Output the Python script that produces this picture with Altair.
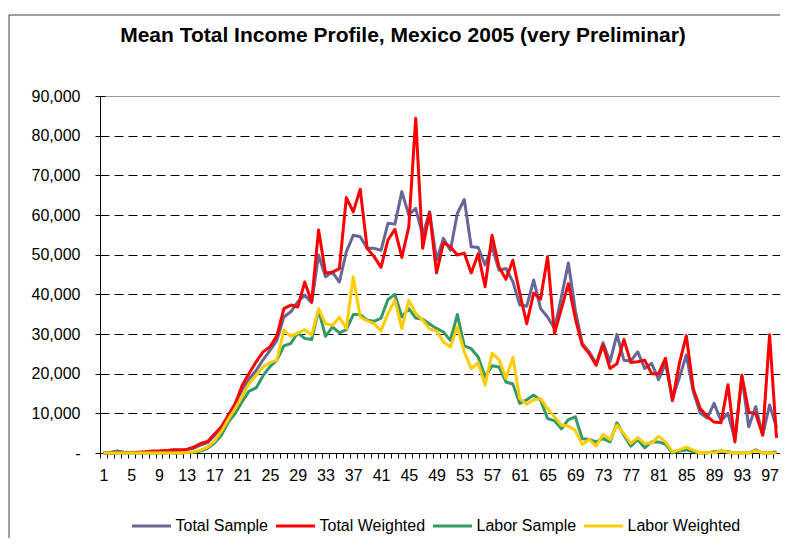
import altair as alt
import pandas as pd

ages = list(range(1, 99))

series_names = ["Total Sample", "Total Weighted", "Labor Sample", "Labor Weighted"]
series_colors = ["#666699", "#ff0000", "#339966", "#ffcc00"]

total_sample = [
    0, 200, 500, 200, 100, 100, 200, 300, 300, 400,
    500, 600, 800, 1200, 2000, 2600, 4400, 6500, 9500, 12500,
    16000, 18700, 20800, 23500, 25900, 28400, 34300, 35600, 38100, 39800,
    37900, 49900, 44400, 45600, 43100, 50700, 54900, 54500, 51600, 51600,
    51100, 57900, 57700, 65900, 60000, 61700, 54900, 60800, 48600, 54100,
    51100, 60400, 63900, 52000, 51800, 47400, 52000, 46100, 46500, 43200,
    37300, 37000, 43600, 36400, 34300, 31400, 39400, 47900, 36000, 27600,
    25500, 22500, 27800, 23000, 29900, 23400, 23200, 25500, 21300, 22600,
    18500, 22600, 13700, 19000, 24700, 15500, 10100, 8800, 12500, 8100,
    10000, 3400, 19200, 6600, 11700, 4500, 12100, 6400,
]

total_weighted = [
    0, 0, 100, 100, 100, 200, 300, 500, 500, 600,
    800, 800, 900, 1500, 2400, 2900, 4800, 6600, 9500, 12500,
    17100, 20100, 23000, 25500, 26800, 29600, 36400, 37300, 36800, 43100,
    38100, 56200, 45400, 45600, 46500, 64400, 60800, 66500, 51600, 49500,
    46800, 53700, 56400, 49300, 57000, 84400, 51600, 60600, 45400, 53000,
    52000, 49900, 50400, 45400, 50200, 41900, 54900, 46900, 43800, 48600,
    40200, 32600, 40300, 38800, 49500, 30100, 36400, 42700, 33900, 27200,
    25100, 22100, 27200, 21300, 22500, 28600, 22800, 23000, 23400, 20000,
    20000, 23900, 13200, 22600, 29600, 16200, 11200, 9200, 7800, 7600,
    17200, 2800, 19600, 10300, 9900, 4500, 29800, 3800,
]

labor_sample = [
    0, 0, 0, 0, 0, 0, 0, 0, 0, 0,
    0, 0, 100, 200, 500, 1200, 2500, 4500, 7800, 10000,
    13000, 15600, 16400, 19500, 21800, 23400, 27000, 27600, 30300, 28900,
    28600, 36000, 29400, 31800, 30300, 31100, 34900, 34900, 33500, 33200,
    34000, 38700, 40000, 34300, 36400, 34000, 33700, 32500, 31400, 30500,
    28400, 34900, 27000, 26300, 24200, 19200, 22000, 21700, 17900, 17400,
    12500, 13400, 14600, 13300, 8700, 8100, 6100, 8400, 9100, 3600,
    3400, 2800, 3600, 2800, 7600, 4500, 1700, 3400, 1300, 2800,
    2800, 2200, 0, 500, 800, 300, 0, 0, 300, 500,
    300, 0, 0, 0, 800, 0, 0, 300,
]

labor_weighted = [
    0, 0, 0, 0, 0, 0, 0, 0, 0, 0,
    0, 0, 100, 300, 700, 1500, 3000, 5500, 8500, 11300,
    14300, 17500, 19600, 21700, 22800, 23400, 31000, 29400, 30300, 31100,
    29700, 36400, 32600, 32200, 34200, 31400, 44400, 34300, 33300, 32600,
    30800, 35200, 38500, 31400, 38500, 35200, 33500, 31300, 30800, 28000,
    26700, 31800, 25500, 21300, 22700, 17100, 25100, 23600, 18800, 24100,
    13700, 12300, 13400, 13700, 11200, 9100, 7000, 6800, 5700, 2100,
    3400, 1700, 4700, 3400, 7000, 4900, 2400, 3900, 2400, 2500,
    4200, 2800, 300, 800, 1500, 700, 0, 200, 0, 600,
    200, 0, 0, 0, 600, 0, 0, 0,
]

title_text = "Mean Total Income Profile, Mexico 2005 (very Preliminar)"

x_label_values = list(range(1, 98, 4))
x_tick_values = [i + 0.5 for i in range(0, 99)]
y_values = list(range(0, 90001, 10000))
y_grid_values = list(range(10000, 80001, 10000))

rows = []
for name, vals in zip(series_names, [total_sample, total_weighted, labor_sample, labor_weighted]):
    for a, v in zip(ages, vals):
        rows.append({"age": a, "income": v, "series": name})
df = pd.DataFrame(rows)

FONT = "Liberation Sans"
x_scale = alt.Scale(domain=[0.5, 98.5], nice=False, zero=False)
y_scale = alt.Scale(domain=[0, 90000], nice=False, zero=True)
color_scale = alt.Scale(domain=series_names, range=series_colors)

legend = alt.Legend(
    orient="none", legendX=30.5, legendY=409, direction="horizontal", title=None,
    symbolType="stroke", symbolSize=1521, symbolStrokeWidth=3,
    labelFont=FONT, labelFontSize=16, labelColor="black", labelOffset=3,
    columnPadding=1, padding=0, labelLimit=300,
)

x_axis_labels = alt.Axis(
    values=x_label_values, orient="bottom", title=None, ticks=False, tickSize=0,
    labelFont=FONT, labelFontSize=16, labelColor="black", labelPadding=14,
    labelFlush=False, labelOverlap=False, domainColor="black", domainWidth=1, grid=False,
)
x_axis_ticks = alt.Axis(
    values=x_tick_values, orient="bottom", title=None, labels=False, domain=False,
    ticks=True, tickSize=5, tickColor="black", tickWidth=1, grid=False,
)
y_axis_labels = alt.Axis(
    values=y_values, orient="left", title=None, ticks=False, tickSize=0,
    labelFont=FONT, labelFontSize=16, labelColor="black", labelPadding=20,
    labelExpr="datum.value == 0 ? '-\u00a0\u00a0\u00a0\u00a0' : format(datum.value, ',')",
    labelOverlap=False, labelFlush=False,
    domainColor="black", domainWidth=1, grid=False,
)
y_axis_ticks = alt.Axis(
    values=y_values, orient="left", title=None, labels=False, domain=False,
    ticks=True, tickSize=10, offset=-5, tickColor="black", tickWidth=1, grid=False,
)
y_axis_grid = alt.Axis(
    values=y_grid_values, orient="left", title=None, labels=False, domain=False,
    ticks=False, grid=True, gridColor="black", gridDash=[9, 5], gridWidth=1,
)

def series_layer(name, xaxis, yaxis):
    return alt.Chart(df).transform_filter(
        alt.datum.series == name
    ).mark_line(strokeWidth=3, strokeJoin="round").encode(
        x=alt.X("age:Q", scale=x_scale, axis=xaxis),
        y=alt.Y("income:Q", scale=y_scale, axis=yaxis),
        color=alt.Color("series:N", scale=color_scale, legend=legend),
    )

l1 = series_layer("Total Sample", x_axis_labels, y_axis_labels)
l2 = series_layer("Total Weighted", x_axis_ticks, y_axis_ticks)
l3 = series_layer("Labor Sample", None, y_axis_grid)
l4 = series_layer("Labor Weighted", None, None)

frame_df = pd.DataFrame({"k": [0]})
border_top = alt.Chart(frame_df).mark_rule(color="#404040", strokeWidth=1).encode(
    x=alt.value(-91), x2=alt.value(690), y=alt.value(-81)
)
border_left = alt.Chart(frame_df).mark_rule(color="#404040", strokeWidth=1).encode(
    x=alt.value(-91), y=alt.value(-81), y2=alt.value(445)
)
title_mark = alt.Chart(frame_df).mark_text(
    font=FONT, fontSize=21, fontWeight="bold", color="black",
    align="center", baseline="alphabetic",
).encode(
    x=alt.value(303), y=alt.value(-54), text=alt.value(title_text)
)

chart = alt.layer(border_top, border_left, title_mark, l1, l2, l3, l4).resolve_axis(
    x="independent", y="independent"
).properties(
    width=680,
    height=357,
    padding={"left": 92, "top": 88, "right": 0, "bottom": 85},
    autosize=alt.AutoSizeParams(type="none"),
).configure(
    font=FONT, background="white"
).configure_view(
    stroke="#999999", strokeWidth=1
)

chart.save("out.html", embed_options={"renderer": "svg", "actions": False})
